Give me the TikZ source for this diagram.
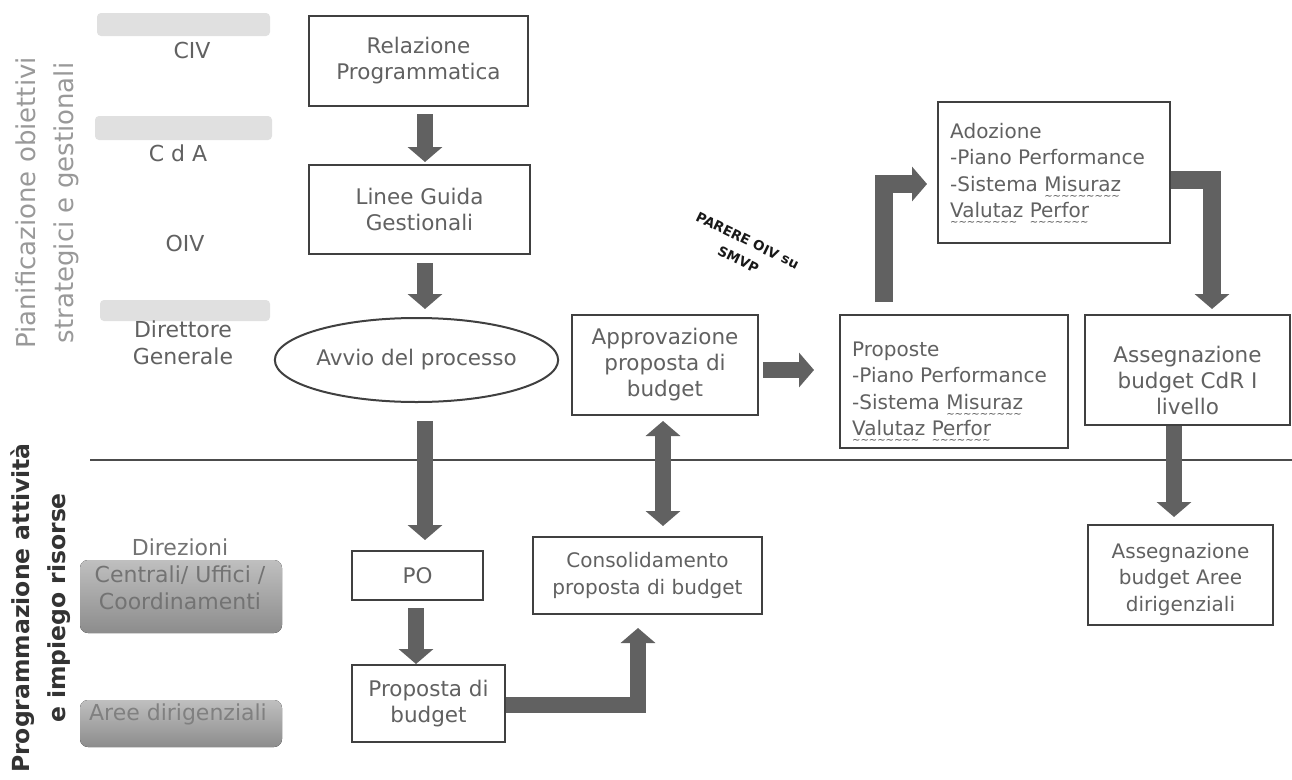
\documentclass[tikz,border=0pt]{standalone}
\usepackage{fontspec}
\setmainfont{DejaVu Sans}
\usetikzlibrary{arrows.meta,calc,shapes.geometric}
\newcommand\boxfont{\fontsize{21.5}{26}\selectfont}
\newcommand\rboxfont{\fontsize{20}{26.5}\selectfont}
\newcommand\lblfont{\fontsize{22}{27}\selectfont}
\newcommand\wav[1]{\setbox0\hbox{#1}\leavevmode\rlap{\copy0}\rlap{\raisebox{-8pt}{\color{black!70}\hbox to \wd0{\fontsize{10}{10}\selectfont\leaders\hbox{\textasciitilde}\hfill}}}\hskip\wd0\relax}
\tikzset{
  box/.style={draw=black!75, line width=2pt, align=center, text=black!62, font=\boxfont, inner sep=0pt},
  btext/.style={align=center, text=black!62, font=\rboxfont, inner sep=0pt},
  ltext/.style={align=left, text=black!62, font=\rboxfont, inner sep=0pt, anchor=west},
  lbl/.style={align=center, text=black!62, font=\lblfont, inner sep=0pt},
  barrow/.style={draw=black!62, line width=16pt, -{Triangle[width=34pt,length=15pt]}},
  dbarrow/.style={draw=black!62, line width=16pt, {Triangle[width=34pt,length=15pt]}-{Triangle[width=34pt,length=15pt]}},
  band/.style={fill=black!12, draw=none, rounded corners=4pt},
  dband/.style={top color=black!25, bottom color=black!45, draw=none, rounded corners=8pt}
}
\begin{document}
\begin{tikzpicture}[x=1pt,y=-1pt]
\useasboundingbox (0,0) rectangle (1292,779);
\fill[white] (0,0) rectangle (1292,779);

% left bands
\fill[band] (97,13) rectangle (270,36);
\fill[band] (95,116) rectangle (272,140);
\fill[band] (100,300) rectangle (270,321);
\fill[dband] (80,560) rectangle (282,633);
\fill[dband] (80,700) rectangle (282,747);

% vertical titles
\node[rotate=90, align=center, text=black!40, font=\fontsize{26}{38}\selectfont] (tit1) at (47,203) {Pianificazione obiettivi\\strategici e gestionali};
\node[rotate=90, align=center, text=black!80, font=\bfseries\fontsize{23.5}{36}\selectfont] (tit2) at (41,608) {Programmazione attività\\e impiego risorse};

% row labels
\node[lbl] (civ) at (192,50) {CIV};
\node[lbl] (cda) at (178,153) {C d A};
\node[lbl] (oiv) at (185,243) {OIV};
\node[lbl] (dg) at (183,343) {Direttore\\Generale};
\node[lbl, text=black!55] (dir) at (180,574) {Direzioni\\Centrali/ Uffici /\\Coordinamenti};
\node[lbl, text=black!50] (aree0) at (178,714) {Aree dirigenziali};

% divider
\draw[black!70, line width=1.3pt] (90,460) -- (1292,460);

% boxes
\node[box, minimum width=219pt, minimum height=90pt] (rel) at (418.5,61) {Relazione\\Programmatica};
\node[box, minimum width=221pt, minimum height=89pt] (lin) at (419.5,209.5) {Linee Guida\\Gestionali};
\node[box, ellipse, minimum width=253pt, minimum height=84pt] (avv) at (416.5,360) {Avvio del processo};
\node[box, minimum width=131pt, minimum height=49pt] (po) at (417.5,575.5) {PO};
\node[box, minimum width=153pt, minimum height=77pt] (prop) at (428.5,703.5) {Proposta di\\budget};
\node[box, minimum width=229pt, minimum height=77pt, font=\rboxfont] (cons) at (647.5,575.5) {Consolidamento\\proposta di budget};
\node[box, minimum width=186pt, minimum height=100pt] (appr) at (665,365) {Approvazione\\proposta di\\budget};

\node[box, minimum width=228pt, minimum height=133pt] (propo) at (954,381.5) {};
\node[ltext] (propot) at ($(propo.west)+(13,11)$) {Proposte\\-Piano Performance\\-Sistema \wav{Misuraz}\\\wav{Valutaz} \wav{Perfor}};
\node[box, minimum width=232pt, minimum height=141pt] (ado) at (1054,172.5) {};
\node[ltext] (adot) at ($(ado.west)+(13,2)$) {Adozione\\-Piano Performance\\-Sistema \wav{Misuraz}\\\wav{Valutaz} \wav{Perfor}};
\node[box, minimum width=205pt, minimum height=110pt] (cdr) at (1187.5,370) {};
\node[btext, font=\boxfont] (cdrt) at ($(cdr.center)+(0,10)$) {Assegnazione\\budget CdR I\\livello};
\node[box, minimum width=185pt, minimum height=100pt] (aree) at (1180.5,575) {};
\node[btext] (areet) at ($(aree.center)+(0,4)$) {Assegnazione\\budget Aree\\dirigenziali};

\node[rotate=-26, align=center, text=black!90, font=\bfseries\fontsize{13.5}{21}\selectfont] (parere) at (743,250) {PARERE OIV su\\SMVP};

% connectors
\coordinate (cx) at (425,0);
\coordinate (cx2) at (416,0);
\coordinate (cx3) at (663,0);
\coordinate (cx4) at (1174,0);
\draw[barrow, shorten <=7pt, shorten >=2pt] (rel.south -| cx) -- (lin.north -| cx);
\draw[barrow, shorten <=8pt, shorten >=8pt] (lin.south -| cx) -- (avv.north -| cx);
\draw[barrow, shorten <=18pt, shorten >=10pt] (avv.south -| cx) -- (po.north -| cx);
\draw[barrow, shorten <=7pt, shorten >=0pt] (po.south -| cx2) -- (prop.north -| cx2);
\draw[barrow, shorten >=13pt] ($(prop.east)+(0,1.5)$) -| ($(cons.south)+(-9.5,0)$);
\draw[dbarrow, shorten <=5pt, shorten >=10pt] (appr.south -| cx3) -- (cons.north -| cx3);
\draw[barrow, shorten <=4pt, shorten >=25pt] ($(appr.east)+(0,5)$) -- ($(propo.west)+(0,-11.5)$);
\draw[barrow, line width=18pt, shorten <=12pt, shorten >=10pt] ($(propo.north)+(-70,0)$) |- ($(ado.west)+(0,11.5)$);
\draw[barrow, line width=18pt, shorten >=5pt] ($(ado.east)+(0,7.5)$) -| ($(cdr.north)+(24.5,0)$);
\draw[barrow, shorten >=7pt] (cdr.south -| cx4) -- (aree.north -| cx4);
\end{tikzpicture}
\end{document}
